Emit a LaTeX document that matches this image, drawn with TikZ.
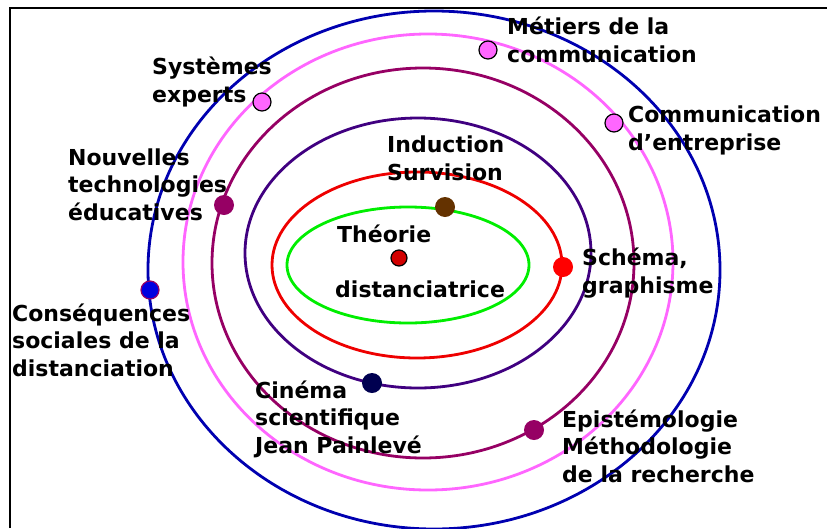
\documentclass[tikz,border=0pt]{standalone}
\usepackage{fontspec}
\setmainfont{DejaVu Sans}
\definecolor{orbgreen}{RGB}{0,238,0}
\definecolor{orbred}{RGB}{238,0,0}
\definecolor{orbindigo}{RGB}{64,0,128}
\definecolor{orbplum}{RGB}{150,0,100}
\definecolor{orbpink}{RGB}{255,102,255}
\definecolor{orbblue}{RGB}{0,0,176}
\definecolor{dotbrown}{RGB}{100,50,0}
\definecolor{dotnavy}{RGB}{0,0,80}
\definecolor{dotcore}{RGB}{210,0,0}
\definecolor{dotblue}{RGB}{0,0,224}
\begin{document}
\begin{tikzpicture}[x=1pt,y=-1pt,
  orbit/.style={line width=2.8pt},
  dot/.style={circle,inner sep=0pt,minimum size=20pt},
  ring/.style={dot,minimum size=18pt,draw=black,line width=1.2pt},
  lbl/.style={anchor=base west,align=left,inner sep=0pt,
    font=\fontsize{22}{27.5}\selectfont\bfseries}]
\useasboundingbox (0,0) rectangle (827,528);
\draw[line width=1.6pt] (10,528) -- (10,8) -- (827,8);
\draw[orbit,orbblue] (434,270) ellipse [x radius=286,y radius=259];
\draw[orbit,orbpink] (428,262) ellipse [x radius=245,y radius=228];
\draw[orbit,orbplum] (423,263) ellipse [x radius=211,y radius=195];
\draw[orbit,orbindigo] (418,253) ellipse [x radius=173,y radius=135];
\draw[orbit,orbred] (417,265) ellipse [x radius=145,y radius=93];
\draw[orbit,orbgreen] (408,265) ellipse [x radius=121,y radius=58];
\node[dot,minimum size=16pt,fill=dotcore,draw=black,line width=1.2pt] (core) at (399,258) {};
\node[dot,fill=dotbrown] (survision) at (445,207) {};
\node[dot,fill=red] (schema) at (563,267) {};
\node[dot,fill=dotnavy] (cinema) at (372,383) {};
\node[dot,fill=orbplum] (nouvelles) at (224,205) {};
\node[dot,fill=orbplum] (episteme) at (534,430) {};
\node[ring,fill=orbpink] (systemes) at (262,102) {};
\node[ring,fill=orbpink] (metiers) at (488,50) {};
\node[ring,fill=orbpink] (entreprise) at (614,123) {};
\node[ring,fill=dotblue,draw=orbplum] (consequences) at (150,290) {};
\node[lbl] (systemes-t) at (152,102) {Systèmes\\experts};
\node[lbl] (nouvelles-t) at (68,220) {Nouvelles\\technologies\\éducatives};
\node[lbl] (survision-t) at (387,180) {Induction\\Survision};
\node[lbl] (core-t1) at (337,242) {Théorie};
\node[lbl] (core-t2) at (335,297) {distanciatrice};
\node[lbl] (schema-t) at (582,293) {Schéma,\\graphisme};
\node[lbl] (metiers-t) at (507,62) {Métiers de la\\communication};
\node[lbl] (entreprise-t) at (628,150) {Communication\\d’entreprise};
\node[lbl] (consequences-t) at (12,376) {Conséquences\\sociales de la\\distanciation};
\node[lbl] (cinema-t) at (255,453) {Cinéma\\scientifique\\Jean Painlevé};
\node[lbl] (episteme-t) at (562,482) {Epistémologie\\Méthodologie\\de la recherche};
\end{tikzpicture}
\end{document}
